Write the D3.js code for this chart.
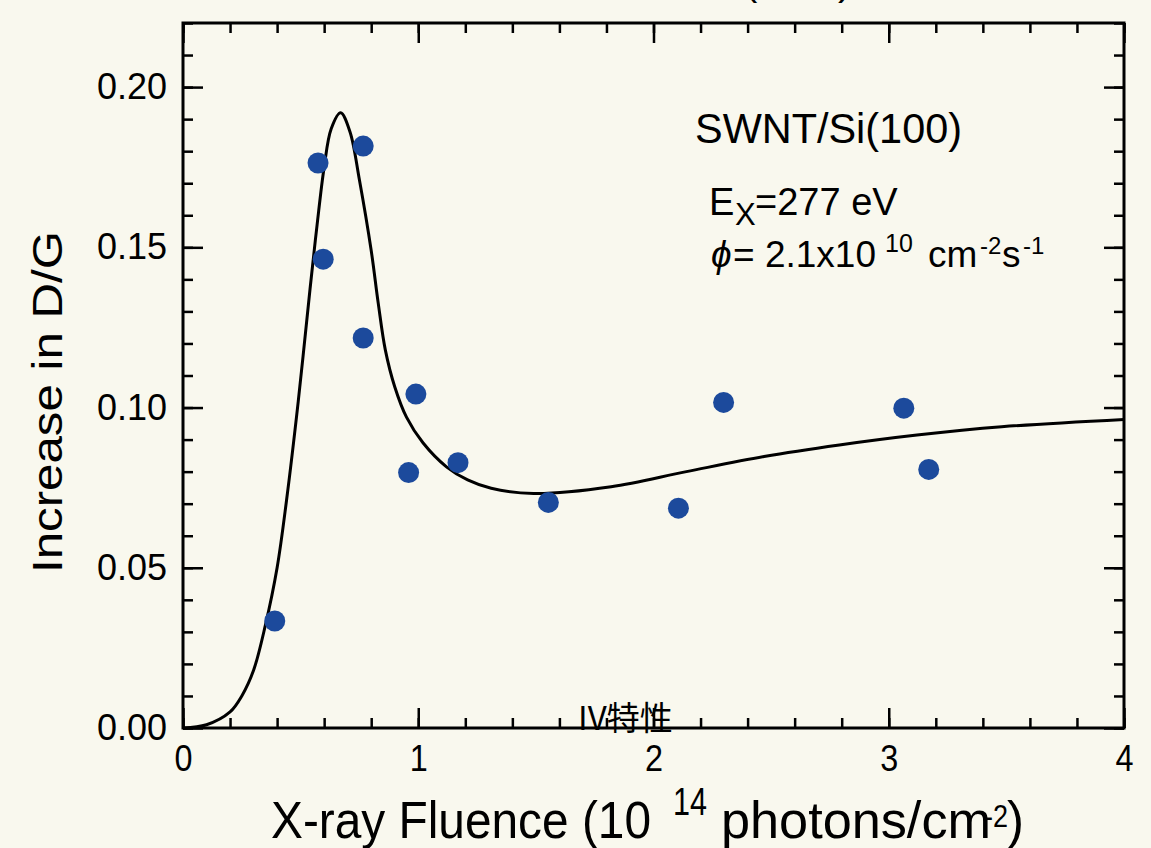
<!DOCTYPE html>
<html>
<head>
<meta charset="utf-8">
<script src="https://cdn.jsdelivr.net/npm/d3@7"></script>
<style>
  body { margin: 0; background: #f9f8ee; }
  svg { display: block; }
  .tick text { fill: #000; }
</style>
</head>
<body>
<div id="chart"></div>
<script>
// measured points (fluence in 1e14 photons/cm^2, increase in D/G)
var fluence  = [0.39, 0.574, 0.596, 0.766, 0.766, 0.959, 0.990, 1.169, 1.553, 2.106, 2.298, 3.064, 3.170];
var increase = [0.0334, 0.1763, 0.1463, 0.1816, 0.1217, 0.0797, 0.1042, 0.0828, 0.0704, 0.0686, 0.1016, 0.0998, 0.0807];

// fitted curve
var fitX = [0, 0.1, 0.2, 0.25, 0.3, 0.35, 0.40, 0.44, 0.49, 0.54, 0.57, 0.60, 0.63, 0.67,
            0.71, 0.75, 0.80, 0.83, 0.86, 0.90, 0.95, 1.02, 1.12, 1.21, 1.31, 1.49, 1.82, 2.14, 2.47, 2.79, 3.12, 3.48, 4.0];
var fitY = [0, 0.001, 0.005, 0.010, 0.018, 0.032, 0.050, 0.071, 0.102, 0.137, 0.157, 0.175, 0.187, 0.192,
            0.186, 0.171, 0.149, 0.1325, 0.118, 0.1065, 0.097, 0.089, 0.0815, 0.0774, 0.0748, 0.0732, 0.0753, 0.080, 0.0847, 0.0883, 0.0914, 0.094, 0.0963];

var xMajor = [0, 1, 2, 3, 4];
var yMajor = [0, 0.05, 0.10, 0.15, 0.20];
var xMinor = d3.range(0, 4.001, 0.2);
var yMinor = d3.range(0, 0.2201, 0.01);

var W = 1151, H = 848;
var plot = {left: 183, right: 1124, top: 23, bottom: 728};

var svg = d3.select("#chart").append("svg")
    .attr("width", W)
    .attr("height", H);

svg.append("rect").attr("width", W).attr("height", H).attr("fill", "#f9f8ee");

var x = d3.scaleLinear().domain([0, 4]).range([plot.left, plot.right]);
var y = d3.scaleLinear().domain([0, 0.22]).range([plot.bottom, plot.top]);

// axes - all ticks point inward
function tickStyle(g) {
  g.select(".domain").remove();
  g.selectAll(".tick line").attr("stroke", "#000").attr("stroke-width", 2.5);
}

svg.append("g").attr("transform", "translate(" + plot.left + ",0)")
    .call(d3.axisLeft(y).tickValues(yMinor).tickSize(-10).tickFormat(""))
    .call(tickStyle);
svg.append("g").attr("transform", "translate(" + plot.left + ",0)")
    .call(d3.axisLeft(y).tickValues(yMajor).tickSize(-20).tickPadding(16).tickFormat(d3.format(".2f")))
    .call(tickStyle)
    .selectAll("text")
      .style("font-family", "'Liberation Sans', Arial, sans-serif")
      .style("font-size", "36px");

svg.append("g").attr("transform", "translate(" + plot.right + ",0)")
    .call(d3.axisRight(y).tickValues(yMinor).tickSize(-10).tickFormat(""))
    .call(tickStyle);
svg.append("g").attr("transform", "translate(" + plot.right + ",0)")
    .call(d3.axisRight(y).tickValues(yMajor).tickSize(-20).tickFormat(""))
    .call(tickStyle);

svg.append("g").attr("transform", "translate(0," + plot.bottom + ")")
    .call(d3.axisBottom(x).tickValues(xMinor).tickSize(-10).tickFormat(""))
    .call(tickStyle);
svg.append("g").attr("transform", "translate(0," + plot.bottom + ")")
    .call(d3.axisBottom(x).tickValues(xMajor).tickSize(-20).tickPadding(17).tickFormat(d3.format("d")))
    .call(tickStyle)
    .selectAll("text")
      .style("font-family", "'Liberation Sans', Arial, sans-serif")
      .style("font-size", "37px")
      .attr("textLength", 18)
      .attr("lengthAdjust", "spacingAndGlyphs");

svg.append("g").attr("transform", "translate(0," + plot.top + ")")
    .call(d3.axisTop(x).tickValues(xMinor).tickSize(-10).tickFormat(""))
    .call(tickStyle);
svg.append("g").attr("transform", "translate(0," + plot.top + ")")
    .call(d3.axisTop(x).tickValues(xMajor).tickSize(-20).tickFormat(""))
    .call(tickStyle);

// frame
svg.append("rect")
    .attr("x", plot.left).attr("y", plot.top)
    .attr("width", plot.right - plot.left).attr("height", plot.bottom - plot.top)
    .attr("fill", "none").attr("stroke", "#000").attr("stroke-width", 3);

// fit curve
var fit = fitX.map(function(d, i) { return [d, fitY[i]]; });
var line = d3.line()
    .x(function(d) { return x(d[0]); })
    .y(function(d) { return y(d[1]); })
    .curve(d3.curveCatmullRom.alpha(0.5));

svg.append("path")
    .datum(fit)
    .attr("d", line)
    .attr("fill", "none")
    .attr("stroke", "#000")
    .attr("stroke-width", 3);

// data points
svg.selectAll(".dot")
    .data(fluence)
  .enter().append("circle")
    .attr("class", "dot")
    .attr("cx", function(d) { return x(d); })
    .attr("cy", function(d, i) { return y(increase[i]); })
    .attr("r", 10.5)
    .attr("fill", "#1c4a9c");

// axis titles (condensed look via textLength)
var sans = "'Liberation Sans', Arial, sans-serif";
function piece(px, py, size, len, str) {
  svg.append("text")
      .attr("x", px).attr("y", py)
      .attr("textLength", len)
      .attr("lengthAdjust", "spacingAndGlyphs")
      .style("font-family", sans)
      .style("font-size", size + "px")
      .attr("fill", "#000")
      .text(str);
}
piece(271, 838, 52, 380, "X-ray Fluence (10");
piece(673, 815, 38, 34, "14");
piece(721, 838, 52, 270, "photons/cm");
piece(984, 827, 32, 24, "-2");
piece(1007, 838, 52, 17, ")");

svg.append("text")
    .attr("transform", "translate(62,573) rotate(-90)")
    .attr("textLength", 342)
    .attr("lengthAdjust", "spacingAndGlyphs")
    .style("font-family", sans)
    .style("font-size", "43px")
    .attr("fill", "#000")
    .text("Increase in D/G");

// annotations
svg.append("text")
    .attr("x", 695).attr("y", 143)
    .style("font-family", sans).style("font-size", "42px")
    .attr("textLength", 267)
    .attr("lengthAdjust", "spacingAndGlyphs")
    .text("SWNT/Si(100)");

var ex = svg.append("text")
    .attr("x", 709).attr("y", 215)
    .style("font-family", sans).style("font-size", "38px");
ex.append("tspan").text("E");
ex.append("tspan").attr("x", 735).attr("y", 225).style("font-size", "31px").text("X");
ex.append("tspan").attr("x", 755).attr("y", 215).text("=277 eV");

var ph = svg.append("text")
    .attr("x", 711).attr("y", 267)
    .style("font-family", sans).style("font-size", "37px");
ph.append("tspan").style("font-style", "italic").text("\u03d5");
ph.append("tspan").attr("x", 733).text("= 2.1x10");
ph.append("tspan").attr("x", 885).attr("y", 252).style("font-size", "25px").text("10");
ph.append("tspan").attr("x", 928).attr("y", 267).text("cm");
ph.append("tspan").attr("x", 980).attr("y", 254).style("font-size", "24px").text("-2");
ph.append("tspan").attr("x", 1002).attr("y", 267).text("s");
ph.append("tspan").attr("x", 1023).attr("y", 254).style("font-size", "24px").text("-1");

svg.append("text")
    .attr("x", 578).attr("y", 730)
    .style("font-family", "'Noto Sans CJK JP', sans-serif")
    .style("font-size", "33px")
    .text("IV特性");

// clipped title remnants at the very top
svg.append("text").attr("x", 744).attr("y", -5)
    .style("font-family", sans).style("font-size", "40px").text("(");
svg.append("text").attr("x", 838).attr("y", -5)
    .style("font-family", sans).style("font-size", "40px").text(")");
</script>
</body>
</html>
